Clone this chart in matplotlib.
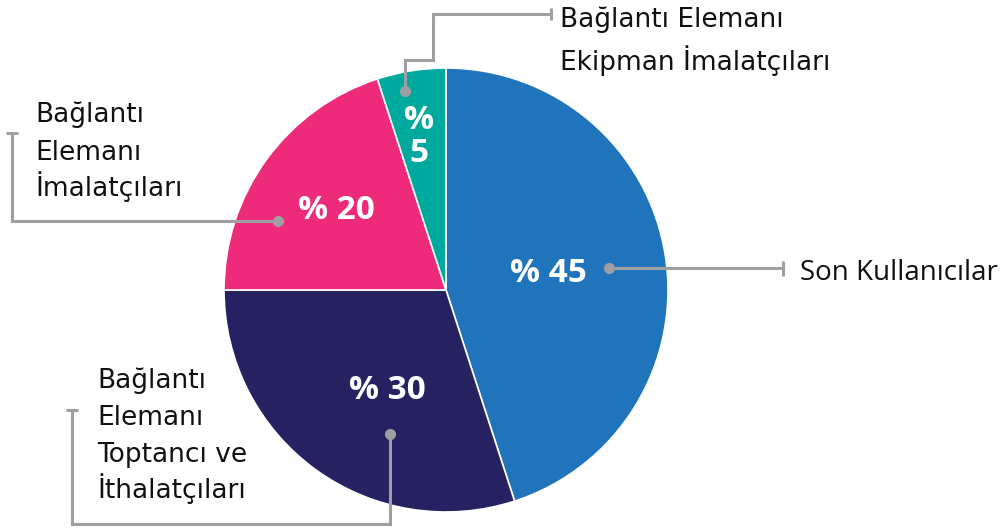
#!/usr/bin/env python3
"""Pie chart: share of fastener market segments (Turkish labels)."""

import numpy as np
import matplotlib.pyplot as plt

# ---- Data ----
segments = [
    "Son Kullanıcılar",
    "Bağlantı\nElemanı\nToptancı ve\nİthalatçıları",
    "Bağlantı\nElemanı\nİmalatçıları",
    "Bağlantı Elemanı\nEkipman İmalatçıları",
]
shares = [45, 30, 20, 5]
colors = ["#1f74bb", "#262262", "#ee2a7b", "#00a99d"]

W, H = 1001, 530
CX, CY, R = 446, 240, 222
GREY = "#9d9fa2"

LABEL_FONT = ["DejaVu Sans"]
PCT_FONT = ["Open Sans", "DejaVu Sans"]


def py(y):
    # pixel row (top origin) -> data y
    return H - y


def main() -> None:
    fig = plt.figure(figsize=(W / 100, H / 100), dpi=100)
    ax = fig.add_axes([0, 0, 1, 1])

    wedges, _ = ax.pie(
        shares,
        colors=colors,
        startangle=90,
        counterclock=False,
        center=(CX, CY),
        radius=R,
        wedgeprops=dict(edgecolor="white", linewidth=1.2),
    )
    ax.set_xlim(0, W)
    ax.set_ylim(0, H)
    ax.set_aspect("equal")
    ax.axis("off")

    # percentage labels inside the wedges: (radius fraction, angle shift)
    label_pos = [(0.465, 0), (0.525, 6), (0.61, 0), (0.70, 1)]
    for w, val, (lr, dth) in zip(wedges, shares, label_pos):
        mid = np.deg2rad((w.theta1 + w.theta2) / 2 + dth)
        x = CX + lr * R * np.cos(mid)
        y = CY + lr * R * np.sin(mid)
        kw = dict(ha="center", va="center", color="white",
                  fontsize=24, fontweight="bold", family=PCT_FONT)
        if val < 10:
            ax.text(x, y + 16, "%", **kw)
            ax.text(x, y - 17, f"{val}", **kw)
        else:
            ax.text(x, y, f"% {val}", **kw)

    lw = 2.2

    def leader(xs, ys, tick):
        ax.plot(xs, [py(v) for v in ys], color=GREY, lw=lw,
                solid_capstyle="butt", solid_joinstyle="miter")
        ax.plot(xs[0], py(ys[0]), "o", color=GREY, ms=7)
        (x0, y0), (x1, y1) = tick
        ax.plot([x0, x1], [py(y0), py(y1)], color=GREY, lw=lw,
                solid_capstyle="butt")

    def label(x, baselines, text, **kw):
        for yb, line in zip(baselines, text.split("\n")):
            ax.text(x, py(yb), line, ha="left", va="baseline",
                    color="#111111", **kw)

    # Son Kullanıcılar
    leader([609, 783], [268, 268], ((783, 261), (783, 276)))
    label(800, [280], segments[0], fontsize=20,
          family=["Open Sans", "DejaVu Sans"])

    # Toptancı ve İthalatçıları
    leader([390, 390, 72, 72], [434, 524, 524, 410], ((66, 410), (78, 410)))
    label(97, [388, 425, 462, 498], segments[1], fontsize=19,
          family=LABEL_FONT)

    # İmalatçıları
    leader([278, 12, 12], [221, 221, 133], ((6, 133), (18, 133)))
    label(35, [122, 160, 196], segments[2], fontsize=19, family=LABEL_FONT)

    # Ekipman İmalatçıları
    leader([405, 405, 433, 433, 551], [91, 60, 60, 14, 14],
           ((551, 8), (551, 20)))
    label(560, [27, 70], segments[3], fontsize=19, family=LABEL_FONT)

    fig.savefig("out.png", dpi=100)
    plt.close(fig)


if __name__ == "__main__":
    main()
